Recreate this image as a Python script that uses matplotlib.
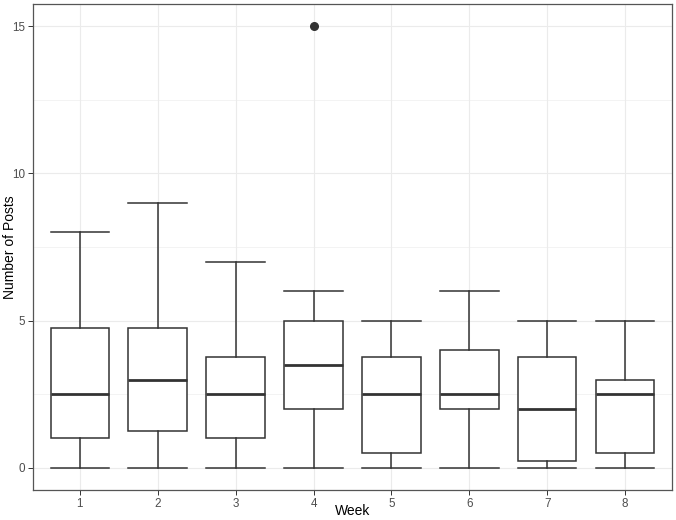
import matplotlib.pyplot as plt
from matplotlib.ticker import MultipleLocator

# weekly post counts
weeks = ['1', '2', '3', '4', '5', '6', '7', '8']
whisker_low = [0, 0, 0, 0, 0, 0, 0, 0]
q1 = [1, 1.25, 1, 2, 0.5, 2, 0.25, 0.5]
median = [2.5, 3, 2.5, 3.5, 2.5, 2.5, 2, 2.5]
q3 = [4.75, 4.75, 3.75, 5, 3.75, 4, 3.75, 3]
whisker_high = [8, 9, 7, 6, 5, 6, 5, 5]
outliers = [[], [], [], [15], [], [], [], []]

plt.rcParams['font.family'] = ['Liberation Sans', 'DejaVu Sans']

stats = []
for i in range(len(weeks)):
    stats.append({'label': weeks[i], 'whislo': whisker_low[i], 'q1': q1[i],
                  'med': median[i], 'q3': q3[i], 'whishi': whisker_high[i],
                  'fliers': outliers[i]})

fig = plt.figure(figsize=(6.76, 5.2), dpi=100)
ax = fig.add_axes([0.0488, 0.0577, 0.9452, 0.9343])

line_col = '#333333'
ax.bxp(stats, positions=range(1, len(weeks) + 1), widths=0.75, capwidths=0.75,
       patch_artist=True,
       boxprops=dict(facecolor='white', edgecolor=line_col, linewidth=1.1),
       medianprops=dict(color=line_col, linewidth=2.0),
       whiskerprops=dict(color=line_col, linewidth=1.1),
       capprops=dict(color=line_col, linewidth=1.1),
       flierprops=dict(marker='o', markerfacecolor=line_col, markeredgecolor=line_col,
                       markersize=5.5))

ax.set_xlim(0.4, len(weeks) + 0.6)
ax.set_ylim(-0.75, 15.75)
ax.yaxis.set_major_locator(MultipleLocator(5))
ax.yaxis.set_minor_locator(MultipleLocator(2.5))
ax.set_xticks(range(1, len(weeks) + 1))
ax.set_xticklabels(weeks)

ax.set_axisbelow(True)
ax.grid(which='major', color='#EBEBEB', linewidth=0.8)
ax.grid(which='minor', axis='y', color='#EBEBEB', linewidth=0.4)
ax.tick_params(which='major', length=3.5, width=0.7, color=line_col,
               labelsize=8.4, labelcolor='#4D4D4D', pad=2)
ax.tick_params(which='minor', length=0)
for s in ax.spines.values():
    s.set_color('#555555')
    s.set_linewidth(0.9)

ax.set_xlabel('Week', fontsize=10, va='center')
ax.set_ylabel('Number of Posts', fontsize=10, va='center')
ax.xaxis.set_label_coords(0.5, -0.043)
ax.yaxis.set_label_coords(-0.036, 0.5)

fig.savefig('out.png', dpi=100)
